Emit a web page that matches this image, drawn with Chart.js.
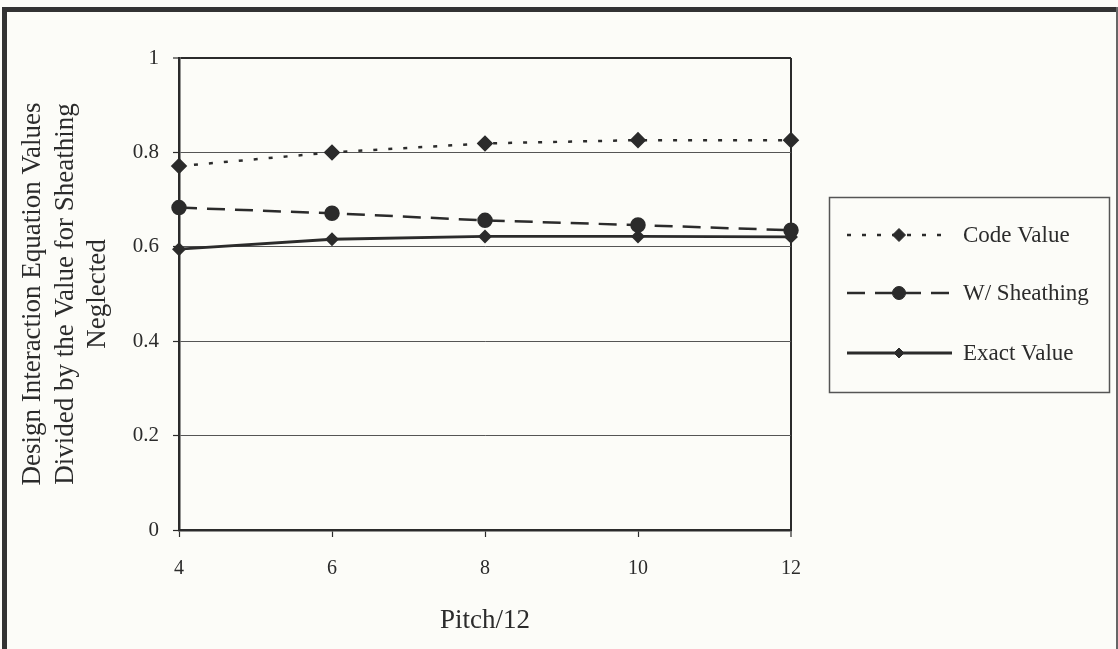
<!DOCTYPE html>
<html><head><meta charset="utf-8">
<script src="https://cdn.jsdelivr.net/npm/chart.js@4"></script>
<style>html,body{margin:0;padding:0;background:#fcfcf8;overflow:hidden} #wrap{width:1118px;height:649px;position:relative}</style>
</head><body><div id="wrap"><canvas id="c" width="1118" height="649"></canvas></div>
<script>
const pitches = [4, 6, 8, 10, 12];
const codeValue = [0.771, 0.800, 0.819, 0.826, 0.826];
const withSheathing = [0.683, 0.671, 0.656, 0.646, 0.635];
const exactValue = [0.595, 0.616, 0.622, 0.622, 0.621];
const seriesNames = ['Code Value', 'W/ Sheathing', 'Exact Value'];
const xTicks = [4, 6, 8, 10, 12];
const yTicks = [0, 0.2, 0.4, 0.6, 0.8, 1];
const yTickLabels = ['0', '0.2', '0.4', '0.6', '0.8', '1'];
const yTitle = ['Design Interaction Equation Values', 'Divided by the Value for Sheathing', 'Neglected'];
const xTitle = 'Pitch/12';

const INK = '#2b2b2b';
const FONT = 'Liberation Serif';
const toPts = arr => pitches.map((x, i) => ({x: x, y: arr[i]}));

const framePlugin = {
  id: 'frame',
  beforeDraw(chart) {
    const ctx = chart.ctx;
    ctx.save();
    ctx.fillStyle = '#fcfcf8';
    ctx.fillRect(0, 0, chart.width, chart.height);
    ctx.fillStyle = '#333';
    ctx.fillRect(2, 7, 5, chart.height - 7);
    ctx.fillRect(2, 7, chart.width - 2, 5);
    ctx.fillStyle = '#666';
    ctx.fillRect(chart.width - 2, 7, 2, chart.height - 7);
    ctx.restore();
  }
};

const legendPlugin = {
  id: 'boxLegend',
  afterDraw(chart) {
    const ctx = chart.ctx;
    ctx.save();
    ctx.strokeStyle = '#555';
    ctx.lineWidth = 1.5;
    ctx.setLineDash([]);
    ctx.strokeRect(829.5, 197.5, 280, 195);
    const rows = [235, 293, 353];
    chart.data.datasets.forEach((ds, i) => {
      const y = rows[i];
      ctx.save();
      ctx.strokeStyle = ds.borderColor;
      ctx.lineWidth = ds.borderWidth;
      ctx.setLineDash(ds.borderDash || []);
      ctx.beginPath();
      ctx.moveTo(847, y);
      ctx.lineTo(952, y);
      ctx.stroke();
      ctx.setLineDash([]);
      ctx.fillStyle = ds.pointBackgroundColor;
      ctx.strokeStyle = ds.pointBorderColor;
      ctx.lineWidth = 1;
      Chart.helpers.drawPoint(ctx, {pointStyle: ds.pointStyle, radius: ds.pointRadius, borderWidth: 1, rotation: 0}, 899, y);
      ctx.restore();
      ctx.fillStyle = INK;
      ctx.font = '23px "' + FONT + '"';
      ctx.textBaseline = 'middle';
      ctx.textAlign = 'left';
      ctx.fillText(ds.label, 963, y + 1);
    });
    ctx.restore();
  }
};

new Chart(document.getElementById('c'), {
  type: 'line',
  data: {
    datasets: [
      {label: seriesNames[0], data: toPts(codeValue), borderColor: INK, borderWidth: 2.5, borderDash: [4, 11],
       pointStyle: 'rectRot', pointRadius: 6.5, pointBackgroundColor: INK, pointBorderColor: INK, clip: false},
      {label: seriesNames[1], data: toPts(withSheathing), borderColor: INK, borderWidth: 2.5, borderDash: [18, 10],
       pointStyle: 'circle', pointRadius: 6.5, pointBackgroundColor: INK, pointBorderColor: INK, clip: false},
      {label: seriesNames[2], data: toPts(exactValue), borderColor: INK, borderWidth: 2.8,
       pointStyle: 'rectRot', pointRadius: 5, pointBackgroundColor: INK, pointBorderColor: INK, clip: false}
    ]
  },
  options: {
    responsive: false,
    animation: false,
    devicePixelRatio: 1,
    layout: {padding: {top: 58, right: 327, left: 0, bottom: 0}},
    plugins: {legend: {display: false}, tooltip: {enabled: false}},
    elements: {line: {tension: 0}},
    scales: {
      x: {
        type: 'linear', min: 4, max: 12,
        afterBuildTicks: s => { s.ticks = xTicks.map(v => ({value: v})); },
        afterFit: s => { s.height = 119; },
        ticks: {color: INK, font: {family: FONT, size: 20}, padding: 20, maxRotation: 0},
        grid: {
          color: c => (c.tick && c.tick.value === 12) ? INK : 'rgba(0,0,0,0)',
          lineWidth: c => (c.tick && c.tick.value === 12) ? 2 : 1,
          tickColor: INK, tickLength: 7, tickWidth: 1.2
        },
        border: {color: INK, width: 2.5},
        title: {display: true, text: xTitle, color: INK, font: {family: FONT, size: 27}, padding: {top: 0, bottom: 12}}
      },
      y: {
        min: 0, max: 1,
        afterBuildTicks: s => { s.ticks = yTicks.map(v => ({value: v})); },
        afterFit: s => { s.width = 179; },
        ticks: {color: INK, font: {family: FONT, size: 21}, padding: 14,
                callback: (v, i) => yTickLabels[i]},
        grid: {
          color: c => (c.tick && c.tick.value === 1) ? INK : '#555',
          lineWidth: c => (c.tick && c.tick.value === 1) ? 2 : 1,
          tickColor: INK, tickLength: 6, tickWidth: 1.2
        },
        border: {color: INK, width: 2.5},
        title: {display: true, text: yTitle, color: INK, font: {family: FONT, size: 27, lineHeight: 1.2}, padding: {top: 17, bottom: 0}}
      }
    }
  },
  plugins: [framePlugin, legendPlugin]
});
</script>
</body></html>
